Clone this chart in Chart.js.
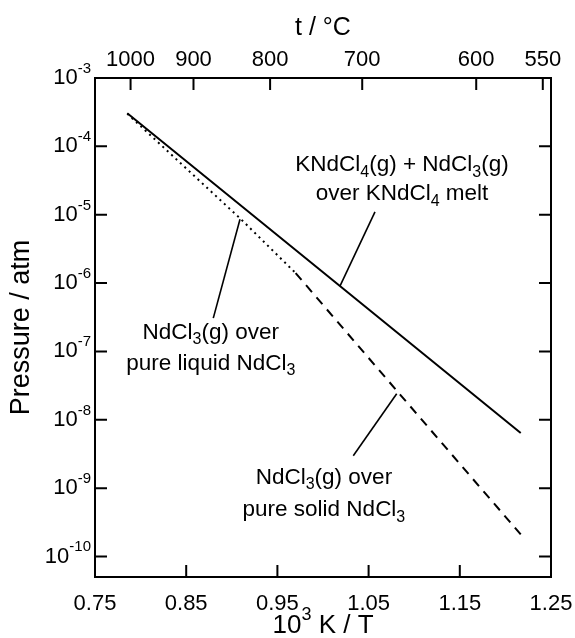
<!DOCTYPE html>
<html>
<head>
<meta charset="utf-8">
<script src="https://cdn.jsdelivr.net/npm/chart.js@4/dist/chart.umd.min.js"></script>
<style>
  body { margin: 0; background: #fff; }
  #wrap { width: 575px; height: 638px; }
</style>
</head>
<body>
<div id="wrap"><canvas id="vapChart"></canvas></div>
<script>
// Axes
const xTickValues = [0.75, 0.85, 0.95, 1.05, 1.15, 1.25];
const tempLabels = [1000, 900, 800, 700, 600, 550];
const tempTickPos = [0.789, 0.858, 0.942, 1.043, 1.168, 1.241];
const yExponents = [-3, -4, -5, -6, -7, -8, -9, -10];

// KNdCl4(g) + NdCl3(g) over KNdCl4 melt
const meltX = [0.7854, 1.0, 1.2168];
const meltP = [3.05e-4, 1.44e-6, 6.4e-9];
// NdCl3(g) over pure liquid NdCl3
const liquidX = [0.7854, 0.91, 0.970];
const liquidP = [3.0e-4, 8.6e-6, 1.4e-6];
// NdCl3(g) over pure solid NdCl3
const solidX = [0.970, 1.085, 1.2168];
const solidP = [1.4e-6, 2.3e-8, 2.1e-10];

// Leader lines
const leadMeltX = [1.0186, 1.057];
const leadMeltP = [9.0e-7, 1.1e-5];
const leadLiqX = [0.909, 0.8797];
const leadLiqP = [8.6e-6, 3.07e-7];
const leadSolX = [1.0808, 1.0332];
const leadSolP = [2.4e-8, 2.98e-9];

const FONT = "'Liberation Sans', Arial, Helvetica, sans-serif";

function toPoints(xs, ys) {
    return xs.map((x, i) => ({ x: x, y: ys[i] }));
}

function lineSet(xs, ys, width, dash) {
    return {
        data: toPoints(xs, ys),
        showLine: true,
        borderColor: '#000',
        borderWidth: width,
        borderDash: dash,
        pointRadius: 0,
        tension: 0
    };
}

// Texte avec indices / exposants
function drawRich(ctx, parts, x, y, size, align) {
    const small = Math.round(size * 0.7);
    let total = 0;
    parts.forEach(p => {
        ctx.font = (p.sub || p.sup ? small : size) + 'px ' + FONT;
        p.w = ctx.measureText(p.t).width;
        total += p.w;
    });
    let cx = align === 'right' ? x - total : x - total / 2;
    ctx.textAlign = 'left';
    ctx.textBaseline = 'middle';
    parts.forEach(p => {
        ctx.font = (p.sub || p.sup ? small : size) + 'px ' + FONT;
        let dy = 0;
        if (p.sub) dy = size * 0.32;
        if (p.sup) dy = -size * 0.42;
        ctx.fillText(p.t, cx, y + dy);
        cx += p.w;
    });
}

const annotations = [
    { x: 1.0866, y: 5.35e-5, parts: [{ t: 'KNdCl' }, { t: '4', sub: true }, { t: '(g) + NdCl' }, { t: '3', sub: true }, { t: '(g)' }] },
    { x: 1.0866, y: 2.0e-5, parts: [{ t: 'over KNdCl' }, { t: '4', sub: true }, { t: ' melt' }] },
    { x: 0.877, y: 1.87e-7, parts: [{ t: 'NdCl' }, { t: '3', sub: true }, { t: '(g) over' }] },
    { x: 0.877, y: 6.6e-8, parts: [{ t: 'pure liquid NdCl' }, { t: '3', sub: true }] },
    { x: 1.001, y: 1.42e-9, parts: [{ t: 'NdCl' }, { t: '3', sub: true }, { t: '(g) over' }] },
    { x: 1.001, y: 4.8e-10, parts: [{ t: 'pure solid NdCl' }, { t: '3', sub: true }] }
];

const axisDecor = {
    id: 'axisDecor',
    afterDraw(chart) {
        const ctx = chart.ctx;
        const area = chart.chartArea;
        const sx = chart.scales.x, sx2 = chart.scales.x2;
        const sy = chart.scales.y, sy2 = chart.scales.y2;
        const len = 12;
        ctx.save();
        ctx.strokeStyle = '#000';
        ctx.fillStyle = '#000';
        ctx.lineWidth = 2;

        // graduations vers l'intérieur
        ctx.beginPath();
        sx.ticks.forEach(t => {
            const px = sx.getPixelForValue(t.value);
            ctx.moveTo(px, area.bottom); ctx.lineTo(px, area.bottom - len);
        });
        sx2.ticks.forEach(t => {
            const px = sx2.getPixelForValue(t.value);
            ctx.moveTo(px, area.top); ctx.lineTo(px, area.top + len);
        });
        sy.ticks.forEach(t => {
            const py = sy.getPixelForValue(t.value);
            ctx.moveTo(area.left, py); ctx.lineTo(area.left + len, py);
        });
        sy2.ticks.forEach(t => {
            const py = sy2.getPixelForValue(t.value);
            ctx.moveTo(area.right, py); ctx.lineTo(area.right - len, py);
        });
        ctx.stroke();

        // étiquettes
        sx.ticks.forEach(t => {
            drawRich(ctx, [{ t: t.value.toFixed(2) }], sx.getPixelForValue(t.value), area.bottom + 27, 22);
        });
        sx2.ticks.forEach((t, i) => {
            drawRich(ctx, [{ t: String(tempLabels[i]) }], sx2.getPixelForValue(t.value), area.top - 18, 22);
        });
        sy.ticks.forEach(t => {
            const e = Math.round(Math.log10(t.value));
            drawRich(ctx, [{ t: '10' }, { t: String(e), sup: true }], area.left - 4, sy.getPixelForValue(t.value), 22, 'right');
        });

        // titres des axes
        const midX = (area.left + area.right) / 2;
        drawRich(ctx, [{ t: 't / \u00B0C' }], midX, 28, 25);
        drawRich(ctx, [{ t: '10' }, { t: '3', sup: true }, { t: ' K / T' }], midX, 626, 26);
        ctx.save();
        ctx.translate(22, (area.top + area.bottom) / 2);
        ctx.rotate(-Math.PI / 2);
        drawRich(ctx, [{ t: 'Pressure / atm' }], 0, 0, 27);
        ctx.restore();

        // annotations
        annotations.forEach(a => {
            drawRich(ctx, a.parts, sx.getPixelForValue(a.x), sy.getPixelForValue(a.y), 22.5);
        });
        ctx.restore();
    }
};

function fixedTicks(values) {
    return function (scale) {
        scale.ticks = values.map(v => ({ value: v }));
    };
}

const border = { display: true, color: '#000', width: 2 };
const hidden = { display: false };

function createChart() {
    const canvas = document.getElementById('vapChart');
    new Chart(canvas, {
        type: 'scatter',
        data: {
            datasets: [
                lineSet(meltX, meltP, 2, []),
                lineSet(liquidX, liquidP, 2, [2, 4]),
                lineSet(solidX, solidP, 2, [9, 7]),
                lineSet(leadMeltX, leadMeltP, 1.6, []),
                lineSet(leadLiqX, leadLiqP, 1.6, []),
                lineSet(leadSolX, leadSolP, 1.6, [])
            ]
        },
        options: {
            responsive: true,
            maintainAspectRatio: false,
            animation: false,
            layout: { padding: 0 },
            plugins: {
                legend: { display: false },
                tooltip: { enabled: false }
            },
            scales: {
                x: {
                    type: 'linear', position: 'bottom', min: 0.75, max: 1.25,
                    afterBuildTicks: fixedTicks(xTickValues),
                    afterFit: s => { s.height = 61; },
                    ticks: hidden, grid: hidden, border: border
                },
                x2: {
                    type: 'linear', position: 'top', min: 0.75, max: 1.25,
                    afterBuildTicks: fixedTicks(tempTickPos),
                    afterFit: s => { s.height = 78; },
                    ticks: hidden, grid: hidden, border: border
                },
                y: {
                    type: 'logarithmic', position: 'left', min: Math.pow(10, -10.3), max: 1e-3,
                    afterBuildTicks: fixedTicks(yExponents.map(e => Math.pow(10, e))),
                    afterFit: s => { s.width = 95; },
                    ticks: hidden, grid: hidden, border: border
                },
                y2: {
                    type: 'logarithmic', position: 'right', min: Math.pow(10, -10.3), max: 1e-3,
                    afterBuildTicks: fixedTicks(yExponents.map(e => Math.pow(10, e))),
                    afterFit: s => { s.width = 24; },
                    ticks: hidden, grid: hidden, border: border
                }
            }
        },
        plugins: [axisDecor]
    });
}

document.addEventListener('DOMContentLoaded', createChart);
</script>
</body>
</html>
